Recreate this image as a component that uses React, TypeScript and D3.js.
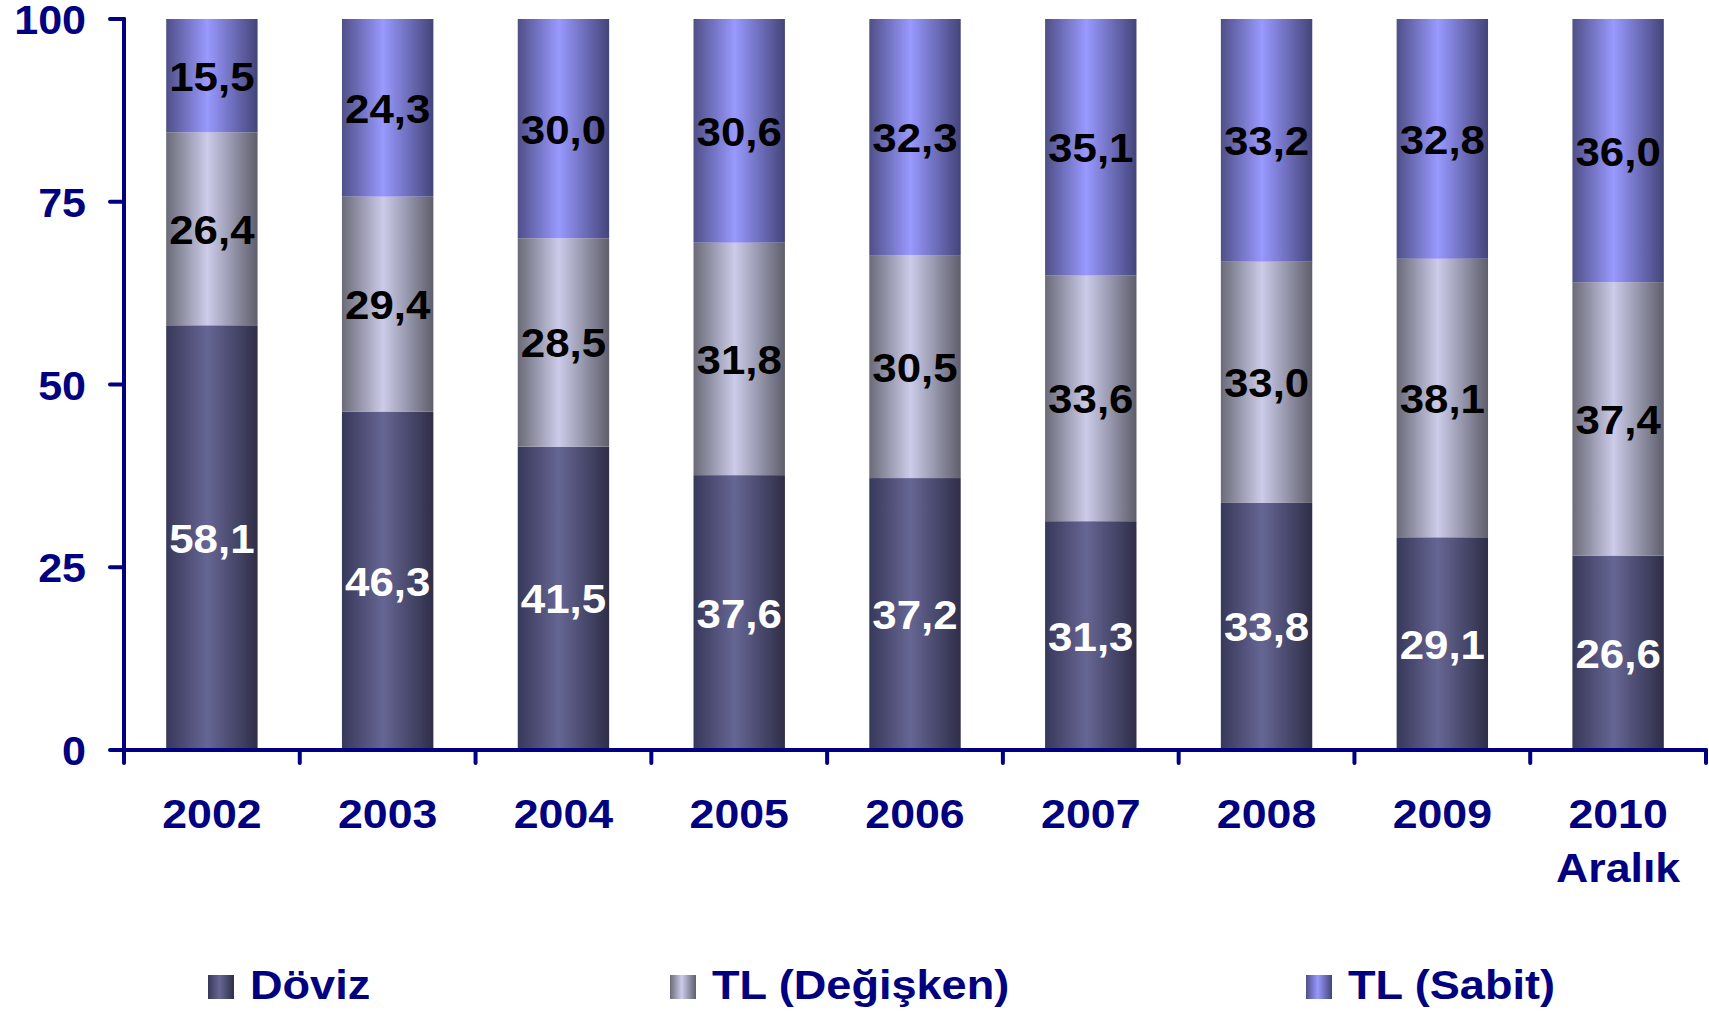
import React from "react";
import * as d3 from "d3";

const categories = ["2002", "2003", "2004", "2005", "2006", "2007", "2008", "2009", "2010"];
const categorySub = ["", "", "", "", "", "", "", "", "Aralık"];
const doviz = [58.1, 46.3, 41.5, 37.6, 37.2, 31.3, 33.8, 29.1, 26.6];
const tlDegisken = [26.4, 29.4, 28.5, 31.8, 30.5, 33.6, 33.0, 38.1, 37.4];
const tlSabit = [15.5, 24.3, 30.0, 30.6, 32.3, 35.1, 33.2, 32.8, 36.0];
const seriesNames = ["Döviz", "TL (Değişken)", "TL (Sabit)"];
const yTicks = [0, 25, 50, 75, 100];

const W = 1709;
const H = 1013;
const NAVY = "#000080";
const FONT = "'Liberation Sans', Arial, sans-serif";

const gradients = [
  { id: "gDoviz", stops: ["#38385a", "#666694", "#2e2e48"], label: "#ffffff" },
  { id: "gDeg", stops: ["#6a6a78", "#ccccea", "#5e5e6c"], label: "#000000" },
  { id: "gSabit", stops: ["#4f4f88", "#9999ff", "#44447a"], label: "#000000" },
];

function Txt(props: {
  x: number;
  y: number;
  sx: number;
  size: number;
  fill: string;
  anchor?: "start" | "middle" | "end";
  children: React.ReactNode;
}) {
  return (
    <g transform={`translate(${props.x},${props.y}) scale(${props.sx},1)`}>
      <text x={0} y={0} textAnchor={props.anchor || "start"} fontSize={props.size} fontWeight="bold" fill={props.fill}>
        {props.children}
      </text>
    </g>
  );
}

export default function App() {
  const left = 124;
  const right = 1706;
  const top = 19;
  const bottom = 750;

  const x = d3.scaleBand<string>().domain(categories).range([left, right]).paddingInner(0.48).paddingOuter(0.24);
  const xOuter = d3.scaleBand<string>().domain(categories).range([left, right]);
  const y = d3.scaleLinear().domain([0, 100]).range([bottom, top]);

  const rows = categories.map((c, i) => ({ c, v: [doviz[i], tlDegisken[i], tlSabit[i]] }));

  const legendX = [208, 670, 1306];

  return (
    <svg width={W} height={H} style={{ position: "absolute", left: 0, top: 0, background: "#fff" }} fontFamily={FONT}>
      <defs>
        {gradients.map((g) => (
          <linearGradient key={g.id} id={g.id} x1="0" y1="0" x2="1" y2="0">
            <stop offset="0%" stopColor={g.stops[0]} />
            <stop offset="45%" stopColor={g.stops[1]} />
            <stop offset="100%" stopColor={g.stops[2]} />
          </linearGradient>
        ))}
      </defs>

      {rows.map((r) => {
        let acc = 0;
        return (
          <g key={r.c}>
            {r.v.map((v, si) => {
              const y0 = acc;
              const y1 = acc + v;
              acc = y1;
              return (
                <rect
                  key={si}
                  x={x(r.c)}
                  width={x.bandwidth()}
                  y={y(y1)}
                  height={y(y0) - y(y1)}
                  fill={`url(#${gradients[si].id})`}
                />
              );
            })}
          </g>
        );
      })}

      {rows.map((r) => {
        let acc = 0;
        return (
          <g key={r.c + "l"}>
            {r.v.map((v, si) => {
              const mid = acc + v / 2;
              acc += v;
              return (
                <Txt
                  key={si}
                  x={(x(r.c) as number) + x.bandwidth() / 2}
                  y={y(mid) + 15}
                  sx={1.07}
                  size={41}
                  anchor="middle"
                  fill={gradients[si].label}
                >
                  {v.toFixed(1).replace(".", ",")}
                </Txt>
              );
            })}
          </g>
        );
      })}

      {/* Axes */}
      <g stroke={NAVY} strokeWidth={4} strokeLinecap="round">
        <line x1={left} x2={left} y1={top} y2={bottom} />
        <line x1={left} x2={right} y1={bottom} y2={bottom} />
        {yTicks.map((t) => (
          <line key={t} x1={left - 14} x2={left} y1={y(t)} y2={y(t)} />
        ))}
        {categories.map((c) => (
          <line key={c} x1={xOuter(c)} x2={xOuter(c)} y1={bottom} y2={bottom + 13} />
        ))}
        <line x1={right} x2={right} y1={bottom} y2={bottom + 13} />
      </g>

      {yTicks.map((t) => (
        <Txt key={t} x={86} y={y(t) + 15} sx={1.05} size={41} anchor="end" fill={NAVY}>
          {t}
        </Txt>
      ))}

      {categories.map((c, i) => {
        const cx = (xOuter(c) as number) + xOuter.bandwidth() / 2;
        return (
          <g key={c}>
            <Txt x={cx} y={828} sx={1.09} size={41} anchor="middle" fill={NAVY}>
              {c}
            </Txt>
            {categorySub[i] && (
              <Txt x={cx} y={882} sx={1.09} size={41} anchor="middle" fill={NAVY}>
                {categorySub[i]}
              </Txt>
            )}
          </g>
        );
      })}

      {seriesNames.map((n, i) => (
        <g key={n}>
          <rect x={legendX[i]} y={975} width={26} height={24} fill={`url(#${gradients[i].id})`} />
          <Txt x={legendX[i] + 42} y={999} sx={1.1} size={41} fill={NAVY}>
            {n}
          </Txt>
        </g>
      ))}
    </svg>
  );
}
